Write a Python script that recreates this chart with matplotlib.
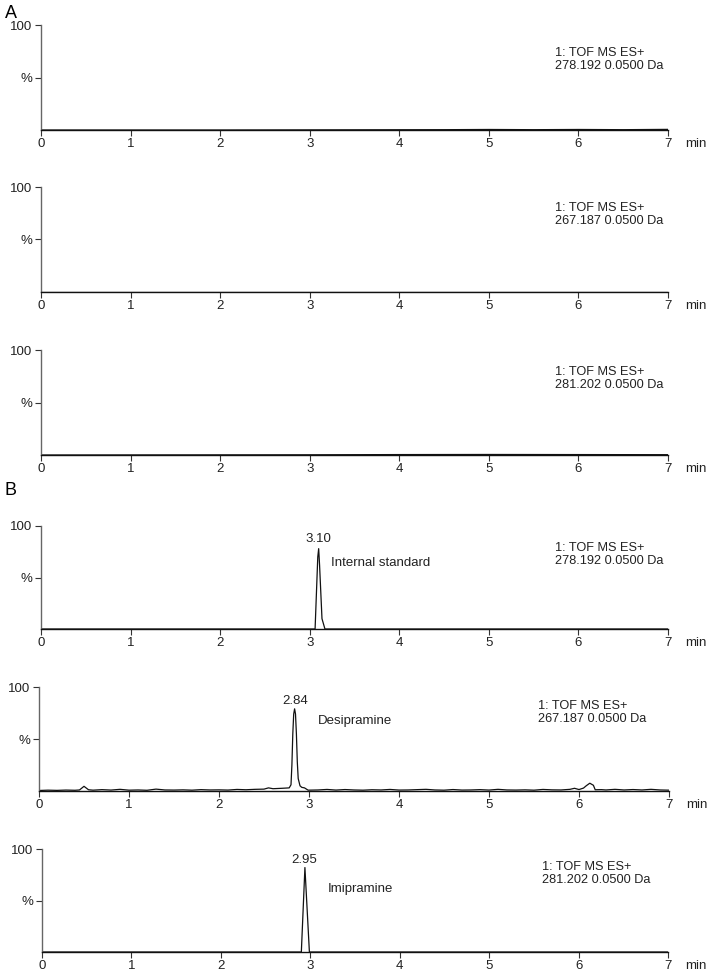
import matplotlib.pyplot as plt

plt.rcParams['font.family'] = ['Liberation Sans', 'DejaVu Sans']

# retention time (min) / relative intensity (%)
# A: blank samples
a1_time = [0.0, 2.0, 4.5, 5.0, 5.5, 6.0, 6.5, 7.0]
a1_int = [0.0, 0.0, 0.3, 0.5, 0.3, 0.5, 0.3, 0.6]
a2_time = [0.0, 2.0, 4.0, 6.0, 7.0]
a2_int = [0.2, 0.2, 0.2, 0.2, 0.2]
a3_time = [0.0, 3.0, 4.0, 5.0, 6.0, 7.0]
a3_int = [0.0, 0.2, 0.4, 0.5, 0.4, 0.3]

# B: spiked samples
b1_time = [0.0, 3.06, 3.09, 3.10, 3.11, 3.137, 3.17, 7.0]
b1_int = [0.0, 0.0, 70.0, 78.0, 62.0, 10.0, 0.0, 0.0]

b2_time = [0.0, 0.1, 0.2, 0.3, 0.4, 0.45, 0.5, 0.55, 0.6, 0.7, 0.8, 0.9,
           1.0, 1.1, 1.2, 1.3, 1.4, 1.5, 1.6, 1.7, 1.8, 1.9, 2.0, 2.1,
           2.2, 2.3, 2.4, 2.5, 2.55, 2.6, 2.7, 2.78, 2.80, 2.81, 2.82, 2.83,
           2.84, 2.85, 2.86, 2.87, 2.88, 2.90, 2.92, 2.95, 2.99, 3.1, 3.2, 3.3,
           3.4, 3.5, 3.6, 3.7, 3.8, 3.9, 4.0, 4.1, 4.2, 4.3, 4.4, 4.5,
           4.6, 4.7, 4.8, 4.9, 5.0, 5.1, 5.2, 5.3, 5.4, 5.5, 5.6, 5.7,
           5.8, 5.9, 5.95, 6.0, 6.05, 6.08, 6.12, 6.16, 6.18, 6.25, 6.3, 6.4,
           6.5, 6.6, 6.7, 6.8, 6.9, 7.0]
b2_int = [0.5, 0.8, 0.6, 0.9, 0.7, 1.0, 4.5, 1.2, 0.8, 1.3, 0.9, 1.6,
          0.8, 1.0, 0.7, 1.8, 1.0, 0.9, 1.1, 0.8, 1.3, 1.0, 1.1, 0.9,
          1.5, 1.2, 1.6, 1.8, 3.0, 2.2, 2.6, 3.0, 6.0, 25.0, 55.0, 74.0,
          79.0, 74.0, 55.0, 28.0, 12.0, 5.0, 3.5, 3.0, 0.8, 1.0, 1.5, 0.9,
          1.4, 1.0, 0.8, 1.2, 1.0, 1.5, 0.9, 1.0, 1.3, 1.6, 1.0, 0.8,
          1.4, 0.9, 1.0, 1.3, 0.9, 1.6, 1.0, 0.9, 1.1, 0.8, 1.5, 1.1,
          1.0, 1.6, 2.6, 1.4, 2.8, 5.0, 7.5, 5.5, 1.2, 1.3, 1.0, 1.6,
          1.0, 1.4, 1.0, 1.6, 1.0, 0.8]

b3_time = [0.0, 2.90, 2.94, 2.99, 7.0]
b3_int = [0.0, 0.0, 82.0, 0.0, 0.0]

traces = [(a1_time, a1_int), (a2_time, a2_int), (a3_time, a3_int),
          (b1_time, b1_int), (b2_time, b2_int), (b3_time, b3_int)]
channels = ['278.192 0.0500 Da', '267.187 0.0500 Da', '281.202 0.0500 Da'] * 2

# peak labels for panel B: (panel index, rt label, rt label pos, name, name pos)
peak_labels = [(3, '3.10', (3.10, 87), 'Internal standard', (3.24, 64)),
               (4, '2.84', (2.85, 87), 'Desipramine', (3.10, 67)),
               (5, '2.95', (2.93, 89), 'Imipramine', (3.20, 61))]

# axes boxes in pixels: left, top(100 %), baseline, right
boxes = [(41, 25, 130, 668), (41, 187, 292, 668), (41, 350, 455, 668),
         (41, 526, 629, 668), (39, 687, 791, 669), (42, 849, 952, 668)]
# channel text position (px) of the upper-left corner
info_pos = [(555, 47), (555, 202), (555, 366), (555, 542), (538, 700), (542, 861)]

W, H = 715, 977
fig = plt.figure(figsize=(W / 100, H / 100), dpi=100)

axes = []
for k, (l, t, b, r) in enumerate(boxes):
    ax = fig.add_axes([l / W, 1 - b / H, (r - l) / W, (b - t) / H])
    x, y = traces[k]
    ax.plot(x, y, color='#111111', lw=0.9)
    ax.set_xlim(0, 7)
    ax.set_ylim(0, 100)
    for s in ['top', 'right']:
        ax.spines[s].set_visible(False)
    ax.spines['left'].set_color('#666666')
    ax.spines['bottom'].set_color('#111111')
    ax.spines['left'].set_linewidth(1.0)
    ax.spines['bottom'].set_linewidth(1.0)
    ax.set_xticks(range(8))
    ax.set_yticks([50, 100])
    ax.set_yticklabels(['%', '100'])
    ax.tick_params(axis='both', labelsize=9.5, length=4, width=0.8,
                   colors='#333333', labelcolor='#222222', pad=2)
    ax.annotate('min', xy=(1.0, 0), xycoords='axes fraction', xytext=(12, -6),
                textcoords='offset points', ha='left', va='top', fontsize=9.5,
                color='#222222')
    px, py = info_pos[k]
    fig.text(px / W, 1 - py / H, '1: TOF MS ES+\n' + channels[k], ha='left',
             va='top', fontsize=9.2, color='#222222', linespacing=1.15)
    axes.append(ax)

for k, rt, rt_xy, name, name_xy in peak_labels:
    ax = axes[k]
    ax.text(rt_xy[0], rt_xy[1], rt, ha='center', va='center', fontsize=9.5,
            color='#222222')
    ax.text(name_xy[0], name_xy[1], name, ha='left', va='center', fontsize=9.5,
            color='#222222')

fig.text(5 / W, 1 - 13 / H, 'A', ha='left', va='center', fontsize=13)
fig.text(5 / W, 1 - 491 / H, 'B', ha='left', va='center', fontsize=13)

fig.savefig('out.png', dpi=100, facecolor='white')
